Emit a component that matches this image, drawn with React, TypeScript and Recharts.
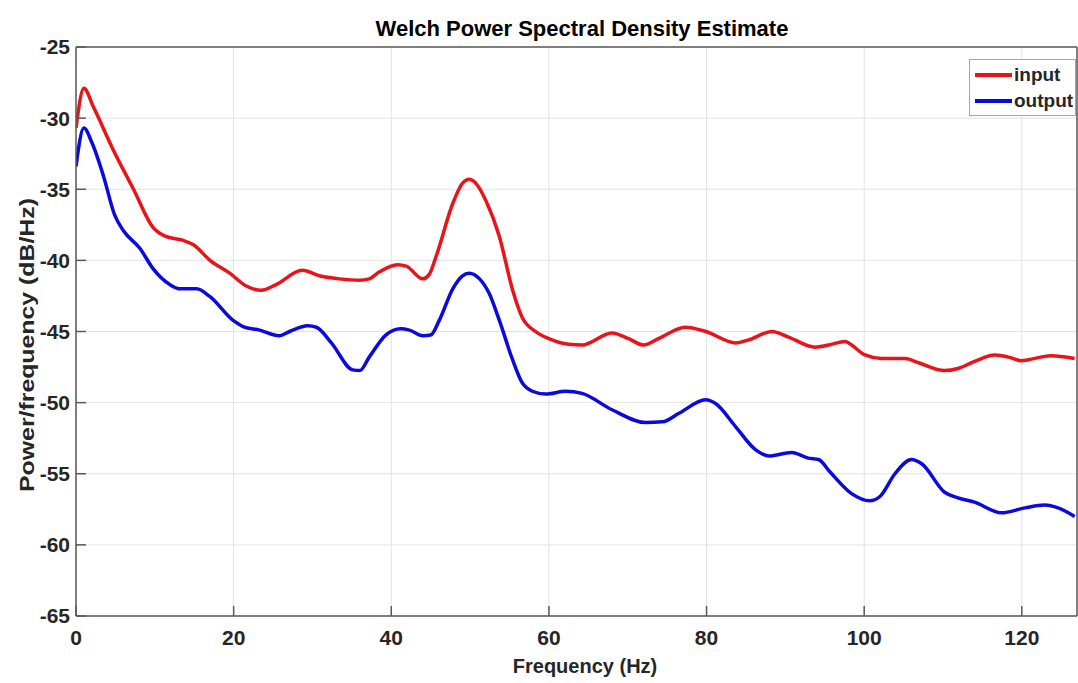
import React from 'react'
import { LineChart, Line, XAxis, YAxis, CartesianGrid, Legend } from 'recharts'

// values (frequency in Hz, PSD in dB/Hz)
const inputFreq = [0, 1, 2.2, 4.7, 7.3, 9.8, 11.3, 13.6, 14.9, 17, 19.5, 21.6, 23.5, 25.4, 28.7, 31, 33.4, 36, 37.2, 38.5, 40.8, 41.9, 44, 44.8, 45.7, 47.8, 49, 49.9, 50.9, 52, 53.7, 55.4, 56.6, 58.3, 60, 62.5, 64.2, 68, 70.1, 72, 73.9, 77.3, 79.9, 83.7, 85.3, 88.3, 90.4, 93.8, 95.5, 97.6, 98.4, 100.1, 102.2, 105.2, 106.9, 110.2, 111.9, 114, 116.6, 118.3, 119.9, 123.7, 126.7]
const inputPsd = [-30.7, -27.9, -29.2, -32.2, -35.0, -37.7, -38.3, -38.6, -38.9, -40.0, -40.9, -41.8, -42.1, -41.7, -40.7, -41.1, -41.3, -41.4, -41.3, -40.8, -40.3, -40.4, -41.3, -41.0, -39.7, -36.0, -34.6, -34.3, -34.7, -35.8, -38.3, -42.1, -44.0, -45.0, -45.5, -45.9, -45.95, -45.1, -45.5, -45.95, -45.5, -44.7, -45.0, -45.8, -45.6, -45.0, -45.4, -46.1, -45.95, -45.7, -45.95, -46.65, -46.9, -46.9, -47.2, -47.75, -47.6, -47.1, -46.65, -46.8, -47.05, -46.7, -46.9]

const outputFreq = [0, 1, 2, 3.5, 4.9, 6, 8.1, 9.8, 11.9, 13.2, 15.3, 17, 19.9, 21.2, 23.3, 25.8, 27.1, 29.4, 30.5, 32.4, 35.1, 36, 37.2, 39.3, 41.2, 42.3, 44, 45, 46.1, 47.8, 49, 49.9, 51.2, 52.4, 53.7, 55.4, 56.6, 57.9, 59.6, 62.1, 64.2, 68, 72.3, 74.4, 76.5, 79.9, 81.1, 83.7, 86.2, 87.9, 90.8, 92.9, 94.2, 95.7, 98.4, 100.7, 102, 103.9, 106, 107.3, 110.2, 111.9, 114, 117.4, 120.4, 122.9, 124.6, 126.7]
const outputPsd = [-33.4, -30.7, -31.7, -34.1, -36.8, -37.9, -39.15, -40.6, -41.7, -42.0, -42.0, -42.55, -44.2, -44.65, -44.9, -45.3, -45.0, -44.6, -44.7, -45.8, -47.7, -47.75, -46.8, -45.25, -44.8, -44.9, -45.3, -45.25, -44.2, -42.0, -41.1, -40.9, -41.3, -42.3, -44.2, -47.0, -48.6, -49.2, -49.4, -49.2, -49.35, -50.5, -51.4, -51.35, -50.75, -49.8, -50.05, -51.7, -53.3, -53.75, -53.5, -53.9, -54.0, -54.9, -56.4, -56.9, -56.6, -55.0, -54.0, -54.3, -56.3, -56.7, -57.0, -57.75, -57.4, -57.2, -57.4, -58.0]

const xTicks = [0, 20, 40, 60, 80, 100, 120]
const yTicks = [-65, -60, -55, -50, -45, -40, -35, -30, -25]

const inputData = inputFreq.map((f, i) => ({ f, v: inputPsd[i] }))
const outputData = outputFreq.map((f, i) => ({ f, v: outputPsd[i] }))

const FONT = '"Liberation Sans", Arial, sans-serif'
const INK = '#262626'
const AXIS = '#595959'
const RED = '#e8141a'
const BLUE = '#0a0adc'

const tickStyle = { fontFamily: FONT, fontSize: 21, fontWeight: 700, fill: INK }

const Title = () => (
  <text x={582} y={28} textAnchor="middle" dominantBaseline="central" style={{ fontFamily: FONT, fontSize: 22, fontWeight: 700, fill: '#000' }}>
    Welch Power Spectral Density Estimate
  </text>
)
const XLabel = () => (
  <text x={585} y={666} textAnchor="middle" dominantBaseline="central" style={{ fontFamily: FONT, fontSize: 20, fontWeight: 700, fill: INK }}>
    Frequency (Hz)
  </text>
)
const YLabel = () => (
  <text x={26} y={345} transform="rotate(-90 26 345)" textAnchor="middle" dominantBaseline="central"
    textLength={294} lengthAdjust="spacingAndGlyphs" style={{ fontFamily: FONT, fontSize: 21, fontWeight: 700, fill: INK }}>
    Power/frequency (dB/Hz)
  </text>
)

const LegendBox = () => (
  <div style={{ width: 107, height: 57, border: '1px solid #a6a6a6', background: '#fff', boxSizing: 'border-box', padding: '2px 0 0 5px', fontFamily: FONT, fontSize: 19, fontWeight: 700, color: INK }}>
    {[['input', RED], ['output', BLUE]].map(([name, color]) => (
      <div key={name} style={{ display: 'flex', alignItems: 'center', height: 26 }}>
        <div style={{ width: 37, height: 4, background: color, marginRight: 2 }} />
        {name}
      </div>
    ))}
  </div>
)

export default function App() {
  return (
    <div style={{ position: 'absolute', left: 0, top: 0, background: '#fff' }}>
      <LineChart width={1078} height={683} margin={{ top: 46, right: 0, bottom: 0, left: 0 }}>
        <CartesianGrid stroke="#e3e3e3" strokeWidth={1} />
        <XAxis dataKey="f" type="number" domain={[0, 127]} ticks={xTicks} allowDataOverflow height={67}
          tick={tickStyle} tickSize={-10} tickMargin={24} stroke={AXIS} strokeWidth={1.5} label={<XLabel />} />
        <XAxis xAxisId="top" orientation="top" dataKey="f" type="number" domain={[0, 127]} ticks={xTicks} height={1}
          tick={false} tickSize={-10} stroke={AXIS} strokeWidth={1.5} label={<Title />} />
        <YAxis type="number" domain={[-65, -25]} ticks={yTicks} allowDataOverflow width={76}
          tick={tickStyle} tickSize={-10} tickMargin={16} stroke={AXIS} strokeWidth={1.5} label={<YLabel />} />
        <YAxis yAxisId="right" orientation="right" type="number" domain={[-65, -25]} ticks={yTicks} width={1}
          tick={false} tickSize={-10} stroke={AXIS} strokeWidth={1.5} />
        <Legend layout="vertical" align="center" verticalAlign="middle" content={<LegendBox />}
          wrapperStyle={{ position: 'absolute', left: 969, top: 59, width: 107, height: 57 }} />
        <Line data={inputData} dataKey="v" name="input" type="monotone" stroke={RED} strokeWidth={3.5} dot={false} isAnimationActive={false} />
        <Line data={outputData} dataKey="v" name="output" type="monotone" stroke={BLUE} strokeWidth={3.5} dot={false} isAnimationActive={false} />
      </LineChart>
    </div>
  )
}
